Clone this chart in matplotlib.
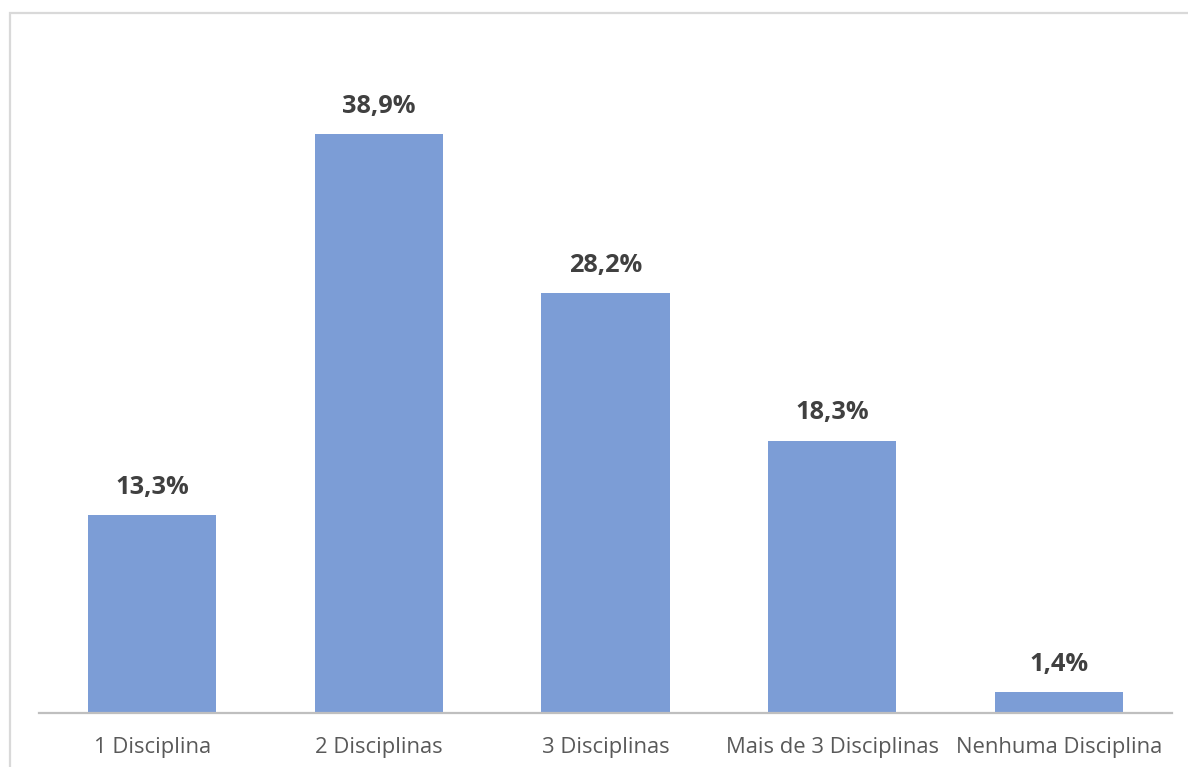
import matplotlib
matplotlib.use("Agg")
import matplotlib.pyplot as plt
from matplotlib.patches import Rectangle

categories = ["1 Disciplina", "2 Disciplinas", "3 Disciplinas", "Mais de 3 Disciplinas", "Nenhuma Disciplina"]
values = [13.3, 38.9, 28.2, 18.3, 1.4]
labels = ["13,3%", "38,9%", "28,2%", "18,3%", "1,4%"]

W, H = 1188, 767
fig = plt.figure(figsize=(W/100, H/100), dpi=100)
plt.rcParams['font.family'] = ['Open Sans', 'DejaVu Sans']

# figure border (chart area outline)
fig.add_artist(Rectangle((9.5/W, -0.1), 1.2, (H-13)/H + 0.1, transform=fig.transFigure,
                         fill=False, edgecolor='#D9D9D9', linewidth=1.6))

left, right = 39, 1172
base, top = 713, 43.4
ax = fig.add_axes([left/W, (H-base)/H, (right-left)/W, (base-top)/H])
x = range(len(categories))
ax.bar(x, values, width=0.565, color='#7C9DD6', zorder=2)
ax.set_xlim(-0.5, 4.5)
ax.set_ylim(0, 45)
for s in ['top', 'right', 'left']:
    ax.spines[s].set_visible(False)
ax.spines['bottom'].set_color('#BFBFBF')
ax.spines['bottom'].set_linewidth(1.6)
ax.set_yticks([])
ax.set_xticks(list(x))
ax.set_xticklabels(categories, fontsize=15.8, color='#595959')
ax.tick_params(axis='x', length=0, pad=17)
for xi, v, lab in zip(x, values, labels):
    ax.annotate(lab, (xi, v), xytext=(0, 11), textcoords='offset points',
                ha='center', va='bottom', fontsize=18.3, fontweight='bold', color='#404040')
fig.savefig('out.png', dpi=100)
